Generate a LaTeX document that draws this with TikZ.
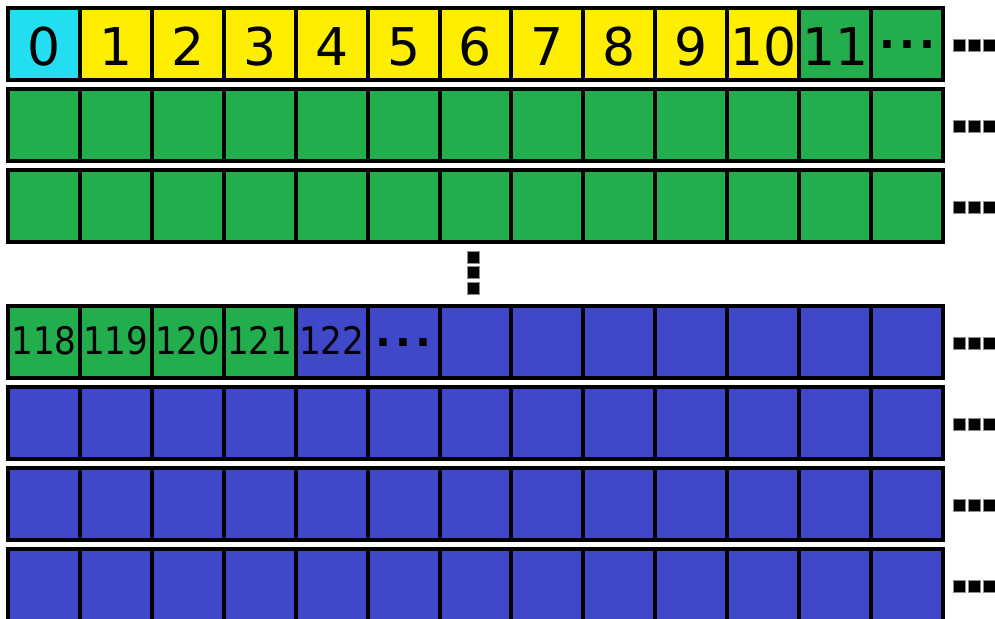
\documentclass[tikz,border=0pt]{standalone}
\usepackage{fontspec}
\usepackage{graphicx}
\setmainfont{DejaVu Sans}
\usetikzlibrary{calc}
\definecolor{cy}{RGB}{35,222,240}
\definecolor{ye}{RGB}{255,238,0}
\definecolor{gr}{RGB}{35,174,77}
\definecolor{bl}{RGB}{62,72,200}
\newcommand{\bigdig}{\fontsize{52}{52}\selectfont}
\newcommand{\smalldig}{\fontsize{38}{38}\selectfont}
\newcommand{\dotfont}{\fontsize{42}{42}\selectfont\bfseries}
\newcommand{\mydots}{.\kern4pt.\kern4pt.}
\newcommand{\sq}[1]{\scalebox{0.9}[1]{#1}}
\begin{document}
\begin{tikzpicture}[x=1pt,y=-1pt,
  cell/.style={draw=black,line width=4pt,minimum width=71.923pt,minimum height=72pt,
    inner sep=0pt,outer sep=0pt,anchor=north west},
  toplab/.style={font=\bigdig,text height=42pt,text depth=0pt},
  lowlab/.style={font=\smalldig,text height=24pt,text depth=0pt},
  dotlab/.style={font=\dotfont,text height=9pt,text depth=0pt},
  rowframe/.style={draw=black,line width=4.6pt},
  sqmark/.style={fill=black,draw=black!45,line width=0.6pt}]
\useasboundingbox (0,0) rectangle (995,618);
\def\cw{71.923}
% row 1
\node[cell,fill=cy,toplab] (r1c0) at (8,8) {0};
\foreach \i in {1,...,10}{
  \node[cell,fill=ye,toplab] (r1c\i) at ({8+\i*\cw},8) {\i};
}
\node[cell,fill=gr,toplab] (r1c11) at ({8+11*\cw},8) {11};
\node[cell,fill=gr,dotlab] (r1c12) at ({8+12*\cw},8) {\mydots};
% rows 2,3
\foreach \r/\y in {2/89,3/170}{
  \foreach \i in {0,...,12}{
    \node[cell,fill=gr] (r\r c\i) at ({8+\i*\cw},\y) {};
  }
}
% row 4
\foreach \i/\t in {0/118,1/119,2/120,3/121}{
  \node[cell,fill=gr,lowlab] (r4c\i) at ({8+\i*\cw},306) {\sq{\t}};
}
\node[cell,fill=bl,lowlab] (r4c4) at ({8+4*\cw},306) {\sq{122}};
\node[cell,fill=bl,dotlab] (r4c5) at ({8+5*\cw},306) {\mydots};
\foreach \i in {6,...,12}{
  \node[cell,fill=bl] (r4c\i) at ({8+\i*\cw},306) {};
}
% rows 5-7
\foreach \r/\y in {5/387,6/468,7/549}{
  \foreach \i in {0,...,12}{
    \node[cell,fill=bl] (r\r c\i) at ({8+\i*\cw},\y) {};
  }
}
% row frames
\foreach \r in {1,...,7}{
  \draw[rowframe] (r\r c0.north west) rectangle (r\r c12.south east);
}
% right-hand continuation marks
\foreach \r in {1,...,7}{
  \foreach \k in {0,1,2}{
    \path (r\r c12.east) ++({10+\k*15},1) coordinate (m\r\k);
    \filldraw[sqmark] ($(m\r\k)+(0,-6)$) rectangle ++(12,12);
  }
}
% vertical continuation marks
\foreach \k in {0,1,2}{
  \filldraw[sqmark] (467.5,{251+\k*15.5}) rectangle ++(12,12);
}
\end{tikzpicture}
\end{document}
